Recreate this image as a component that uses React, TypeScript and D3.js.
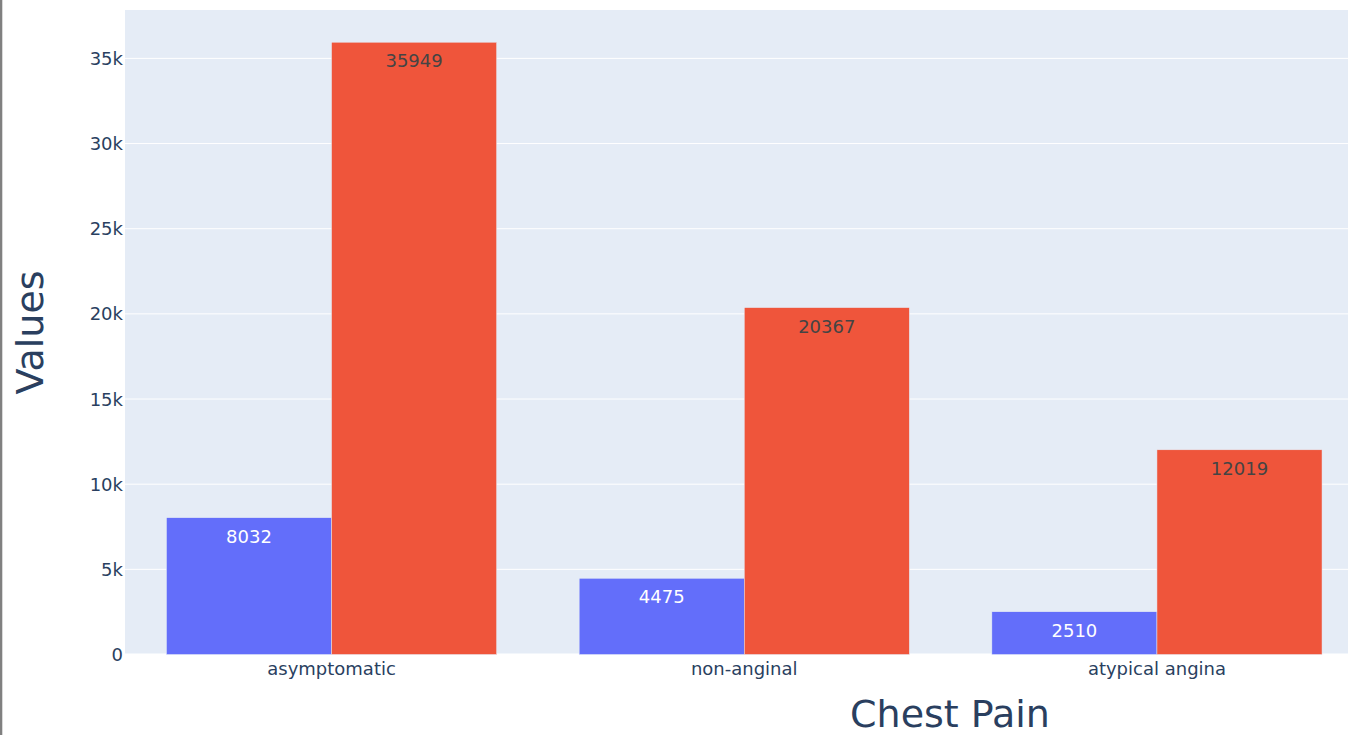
import React from "react";
import * as d3 from "d3";

const categories = ["asymptomatic", "non-anginal", "atypical angina"];
const seriesNames = ["series0", "series1"];
const series0 = [8032, 4475, 2510];
const series1 = [35949, 20367, 12019];
const yTicks = [0, 5000, 10000, 15000, 20000, 25000, 30000, 35000];
const colors = ["#636efa", "#EF553B"];
const textColors = ["#ffffff", "#444444"];

const W = 1354;
const H = 735;
const plotL = 125;
const plotR = 1348;
const plotT = 10;
const plotB = 655;
const font = "'DejaVu Sans', Verdana, sans-serif";

export default function App() {
  const values = [series0, series1];
  const y = d3.scaleLinear().domain([0, 35949 / 0.95]).range([654.5, plotT]);
  const x0 = d3
    .scaleBand<string>()
    .domain(categories)
    .range([125.2, 1363.3])
    .paddingInner(0.2)
    .paddingOuter(0.1);
  const x1 = d3.scaleBand<string>().domain(seriesNames).range([0, x0.bandwidth()]);
  const fmt = d3.format("~s");
  return (
    <div style={{ position: "fixed", left: 0, top: 0, width: W, height: H, background: "#fff" }}>
      <svg width={W} height={H} style={{ display: "block" }}>
        <defs>
          <clipPath id="plotclip">
            <rect x={plotL} y={plotT} width={plotR - plotL} height={plotB - plotT} />
          </clipPath>
        </defs>
        <rect x={0} y={0} width={W} height={H} fill="#fff" />
        <rect x={0} y={0} width={2.3} height={H} fill="#808080" />
        <rect x={plotL} y={plotT} width={plotR - plotL} height={plotB - plotT} fill="#E5ECF6" />
        <g clipPath="url(#plotclip)">
          {yTicks.map((t) => (
            <line
              key={t}
              x1={plotL}
              x2={plotR}
              y1={y(t)}
              y2={y(t)}
              stroke="#ffffff"
              strokeWidth={t === 0 ? 2 : 1}
            />
          ))}
          {values.map((vals, si) =>
            vals.map((v, ci) => {
              const bx = (x0(categories[ci]) as number) + (x1(seriesNames[si]) as number);
              const bw = x1.bandwidth();
              const top = y(v);
              return (
                <g key={`${si}-${ci}`}>
                  <rect
                    x={bx}
                    y={top}
                    width={bw}
                    height={y(0) - top}
                    fill={colors[si]}
                    stroke="#E5ECF6"
                    strokeWidth={0.5}
                  />
                  <text
                    x={bx + bw / 2}
                    y={top + 25}
                    textAnchor="middle"
                    fontFamily={font}
                    fontSize={18}
                    fill={textColors[si]}
                  >
                    {v}
                  </text>
                </g>
              );
            })
          )}
        </g>
        {yTicks.map((t) => (
          <text
            key={t}
            x={123}
            y={y(t) + 6.5}
            textAnchor="end"
            fontFamily={font}
            fontSize={18}
            fill="#2a3f5f"
          >
            {t === 0 ? "0" : fmt(t)}
          </text>
        ))}
        {categories.map((c) => (
          <text
            key={c}
            x={(x0(c) as number) + x0.bandwidth() / 2}
            y={675}
            textAnchor="middle"
            fontFamily={font}
            fontSize={18}
            fill="#2a3f5f"
          >
            {c}
          </text>
        ))}
        <text
          x={950}
          y={727}
          textAnchor="middle"
          fontFamily={font}
          fontSize={38}
          fill="#2a3f5f"
        >
          Chest Pain
        </text>
        <text
          transform={`translate(42.5, 332.5) rotate(-90)`}
          textAnchor="middle"
          fontFamily={font}
          fontSize={38}
          fill="#2a3f5f"
        >
          Values
        </text>
      </svg>
    </div>
  );
}
